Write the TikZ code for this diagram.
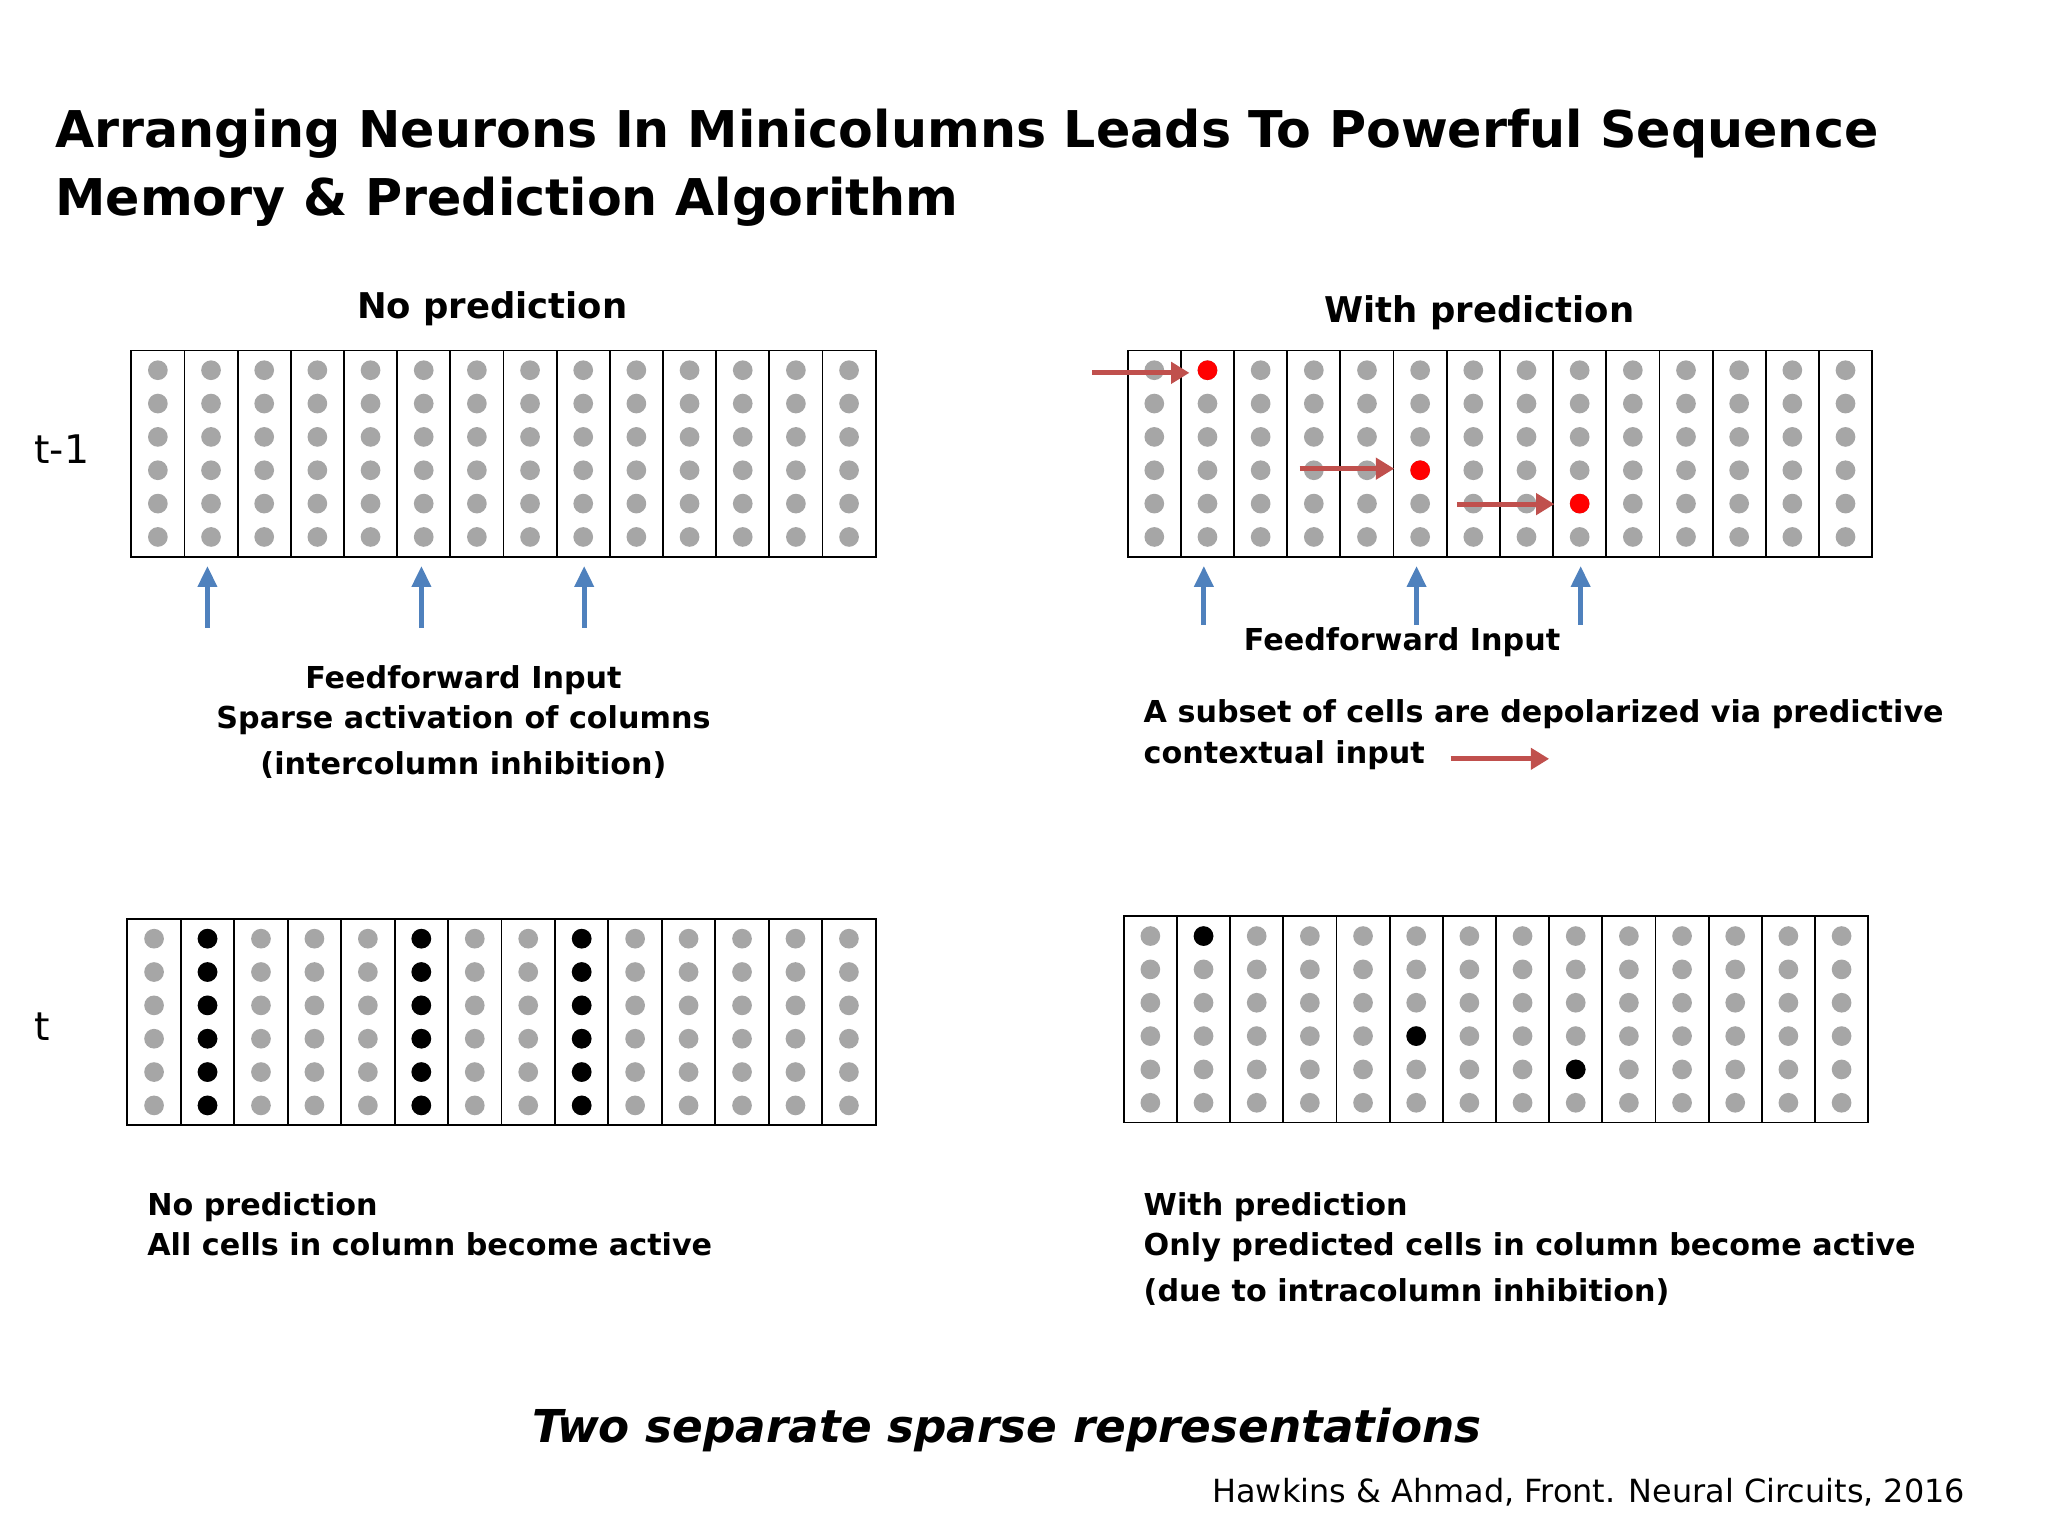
\documentclass[tikz,border=0pt]{standalone}
\usepackage{fontspec}
\setmainfont{DejaVu Sans}
\usetikzlibrary{arrows.meta}
\definecolor{dotgray}{HTML}{A6A6A6}
\definecolor{redarr}{HTML}{C0504D}
\definecolor{bluearr}{HTML}{4F81BD}
\tikzset{
  lbl/.style={font=\fontsize{23}{31}\selectfont\bfseries, align=left, inner sep=0pt},
  redarrow/.style={draw=redarr, line width=4pt, -{Triangle[length=14pt,width=16pt]}},
  bluearrow/.style={draw=bluearr, line width=4pt, -{Triangle[length=16pt,width=14pt]}},
}
\newcommand{\colgrid}[5]{%
  \draw[line width=1.4pt] (#1,#2) rectangle (#3,#4);
  \foreach \i in {1,...,13}{\draw[line width=1.4pt] ({#1+\i*(#3-#1)/14},#2) -- ({#1+\i*(#3-#1)/14},#4);}
  \foreach \i in {0,...,13}{\foreach \j in {0,...,5}{
    \fill[dotgray] ({#1+(\i+0.5)*(#3-#1)/14},{#2+15+\j*25.4}) circle (7.5);}}
}
\newcommand{\cellat}[7]{%
  \fill[#7] ({#1+(#4-0.5)*(#3-#1)/14},{#2+15+(#5-1)*25.4}) circle (7.5);}
\begin{document}
\begin{tikzpicture}[x=1pt,y=-1pt]
\useasboundingbox[fill=white] (0,0) rectangle (1560,1170);
\node[anchor=west,font=\fontsize{38.6}{52}\selectfont\bfseries,align=left,inner sep=0pt] (title) at (42,128) {Arranging Neurons In Minicolumns Leads To Powerful Sequence\\Memory \& Prediction Algorithm};
\node[lbl,font=\fontsize{27}{30}\selectfont\bfseries] (h1) at (375,235) {No prediction};
\node[lbl,font=\fontsize{27}{30}\selectfont\bfseries] (h2) at (1127,238) {With prediction};
\node[font=\fontsize{30}{36}\selectfont,inner sep=0pt] (tm1) at (47,342) {t-1};
\node[font=\fontsize{30}{36}\selectfont,inner sep=0pt] (tt) at (32,782) {t};
\colgrid{100}{267}{667}{424}{}
\colgrid{859}{267}{1426}{424}{}
\colgrid{97}{700}{667}{857}{}
\colgrid{856}{698}{1423}{855}{}
\foreach \c in {2,6,9}{\foreach \r in {1,...,6}{\cellat{97}{700}{667}{\c}{\r}{}{black}}}
\cellat{856}{698}{1423}{2}{1}{}{black}
\cellat{856}{698}{1423}{6}{4}{}{black}
\cellat{856}{698}{1423}{9}{5}{}{black}
\cellat{859}{267}{1426}{2}{1}{}{red}
\cellat{859}{267}{1426}{6}{4}{}{red}
\cellat{859}{267}{1426}{9}{5}{}{red}
\coordinate (r1a) at (832,284); \coordinate (r1b) at (906,284);
\coordinate (r2a) at (990,357); \coordinate (r2b) at (1062,357);
\coordinate (r3a) at (1110,384); \coordinate (r3b) at (1184,384);
\coordinate (r4a) at (1105,578); \coordinate (r4b) at (1180,578);
\foreach \k in {1,2,3,4}{\draw[redarrow] (r\k a) -- (r\k b);}
\foreach \x in {158,321,445}{\draw[bluearrow] (\x,478) -- (\x,431);}
\foreach \x in {917,1079,1204}{\draw[bluearrow] (\x,476) -- (\x,431);}
\node[lbl,align=center] (ff1) at (353,550) {Feedforward Input\\Sparse activation of columns\\[4pt](intercolumn inhibition)};
\node[lbl] (ff2) at (1068,489) {Feedforward Input};
\node[lbl,anchor=north west] (sub) at (871,533) {A subset of cells are depolarized via predictive\\contextual input};
\node[lbl,anchor=north west] (np) at (112,908) {No prediction\\All cells in column become active};
\node[lbl,anchor=north west] (wp) at (871,908) {With prediction\\Only predicted cells in column become active\\[4pt](due to intracolumn inhibition)};
\node[font=\fontsize{34.5}{40}\selectfont\bfseries\itshape,inner sep=0pt] (two) at (767,1089) {Two separate sparse representations};
\node[anchor=east,font=\fontsize{24.3}{28}\selectfont,inner sep=0pt] (cite) at (1497,1137) {Hawkins \& Ahmad, Front. Neural Circuits, 2016};
\end{tikzpicture}
\end{document}
